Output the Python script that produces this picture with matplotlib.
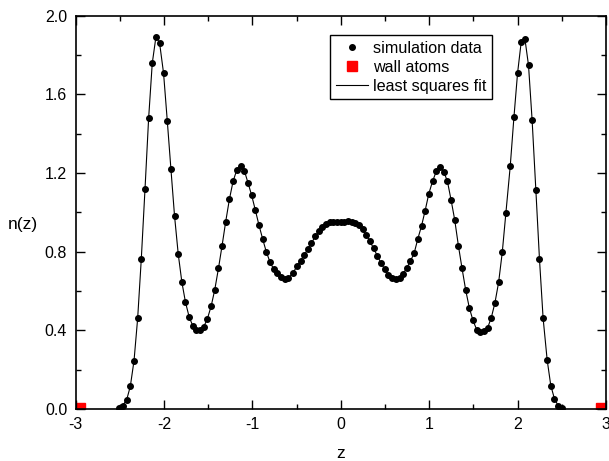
import matplotlib

matplotlib.use("Agg")
import matplotlib.pyplot as plt
from matplotlib.lines import Line2D
from matplotlib.ticker import MultipleLocator, FormatStrFormatter

plt.rcParams["font.family"] = ["Liberation Sans", "DejaVu Sans"]

# density profile n(z)
z_sim = [
    -2.511, -2.466, -2.421, -2.380, -2.338, -2.297, -2.256, -2.214, -2.173, -2.132,
    -2.090, -2.049, -2.004, -1.962, -1.921, -1.880, -1.838, -1.797, -1.756, -1.714,
    -1.673, -1.632, -1.590, -1.549, -1.508, -1.466, -1.425, -1.383, -1.342, -1.301,
    -1.259, -1.218, -1.177, -1.132, -1.090, -1.049, -1.008, -0.966, -0.925, -0.883,
    -0.842, -0.801, -0.759, -0.718, -0.677, -0.635, -0.594, -0.541, -0.496, -0.455,
    -0.414, -0.372, -0.331, -0.289, -0.248, -0.207, -0.165, -0.124, -0.083, -0.041,
    0.000, 0.041, 0.083, 0.124, 0.165, 0.207, 0.248, 0.289, 0.331, 0.372,
    0.414, 0.455, 0.496, 0.538, 0.579, 0.624, 0.665, 0.707, 0.748, 0.789,
    0.831, 0.872, 0.914, 0.955, 0.996, 1.038, 1.083, 1.124, 1.165, 1.207,
    1.248, 1.289, 1.331, 1.372, 1.414, 1.455, 1.496, 1.538, 1.579, 1.620,
    1.662, 1.703, 1.744, 1.786, 1.827, 1.868, 1.917, 1.959, 2.000, 2.041,
    2.083, 2.124, 2.165, 2.207, 2.248, 2.289, 2.335, 2.376, 2.417, 2.459,
    2.500,
]
n_sim = [
    0.007, 0.017, 0.047, 0.115, 0.246, 0.461, 0.762, 1.118, 1.478, 1.758,
    1.893, 1.861, 1.707, 1.465, 1.221, 0.982, 0.787, 0.645, 0.542, 0.467,
    0.422, 0.400, 0.400, 0.418, 0.459, 0.522, 0.606, 0.715, 0.831, 0.953,
    1.067, 1.157, 1.214, 1.235, 1.211, 1.150, 1.087, 1.011, 0.935, 0.864,
    0.799, 0.748, 0.711, 0.689, 0.672, 0.661, 0.664, 0.691, 0.725, 0.754,
    0.782, 0.813, 0.843, 0.877, 0.903, 0.925, 0.940, 0.950, 0.953, 0.952,
    0.950, 0.953, 0.957, 0.953, 0.948, 0.935, 0.914, 0.884, 0.852, 0.816,
    0.779, 0.742, 0.711, 0.681, 0.664, 0.660, 0.667, 0.688, 0.718, 0.752,
    0.793, 0.865, 0.931, 1.009, 1.094, 1.157, 1.211, 1.229, 1.207, 1.157,
    1.063, 0.962, 0.830, 0.715, 0.603, 0.513, 0.450, 0.403, 0.392, 0.396,
    0.413, 0.464, 0.539, 0.644, 0.796, 0.996, 1.233, 1.483, 1.707, 1.865,
    1.883, 1.748, 1.467, 1.114, 0.762, 0.462, 0.249, 0.119, 0.052, 0.017,
    0.007,
]

z_wall = [-2.96, 2.96]
n_wall = [0.0, 0.0]

fig = plt.figure(figsize=(6.09, 4.61), dpi=100, facecolor="white")
ax = fig.add_axes([0.124, 0.113, 0.871, 0.853])

ax.plot(z_sim, n_sim, "-", color="black", lw=0.8, zorder=2)
ax.plot(z_sim, n_sim, "o", color="black", ms=4.0, zorder=3)
ax.plot(z_wall, n_wall, "s", color="red", ms=8, zorder=1)

ax.set_xlim(-3, 3)
ax.set_ylim(0, 2.0)
ax.xaxis.set_major_locator(MultipleLocator(1))
ax.xaxis.set_minor_locator(MultipleLocator(0.5))
ax.yaxis.set_major_locator(MultipleLocator(0.4))
ax.yaxis.set_minor_locator(MultipleLocator(0.2))
ax.yaxis.set_major_formatter(FormatStrFormatter("%.1f"))
ax.xaxis.set_major_formatter(FormatStrFormatter("%d"))

ax.tick_params(which="both", direction="in", top=True, right=True, width=1.0, colors="black")
ax.tick_params(which="major", length=6.5, labelsize=11.5, pad=6)
ax.tick_params(which="minor", length=3.5)
for s in ax.spines.values():
    s.set_linewidth(1.2)

ax.set_xlabel("z", fontsize=12.5, va="center")
ax.xaxis.set_label_coords(0.5, -0.113)
ax.set_ylabel("n(z)", fontsize=12.5, rotation=0, ha="center", va="center")
ax.yaxis.set_label_coords(-0.099, 0.47)

handles = [
    Line2D([], [], ls="none", marker="o", color="black", ms=4.0),
    Line2D([], [], ls="none", marker="s", color="red", ms=6.5),
    Line2D([], [], ls="-", color="black", lw=0.8),
]
labels = ["simulation data", "wall atoms", "least squares fit"]
leg = ax.legend(handles, labels, loc="upper left", bbox_to_anchor=(0.542, 0.924),
                bbox_transform=fig.transFigure, fontsize=11.6, frameon=True, fancybox=False,
                edgecolor="black", framealpha=1, borderpad=0.35, labelspacing=0.25,
                handlelength=2.0, handletextpad=0.3, borderaxespad=0)
leg.get_frame().set_linewidth(1.0)

fig.savefig("out.png", dpi=100, facecolor="white")
